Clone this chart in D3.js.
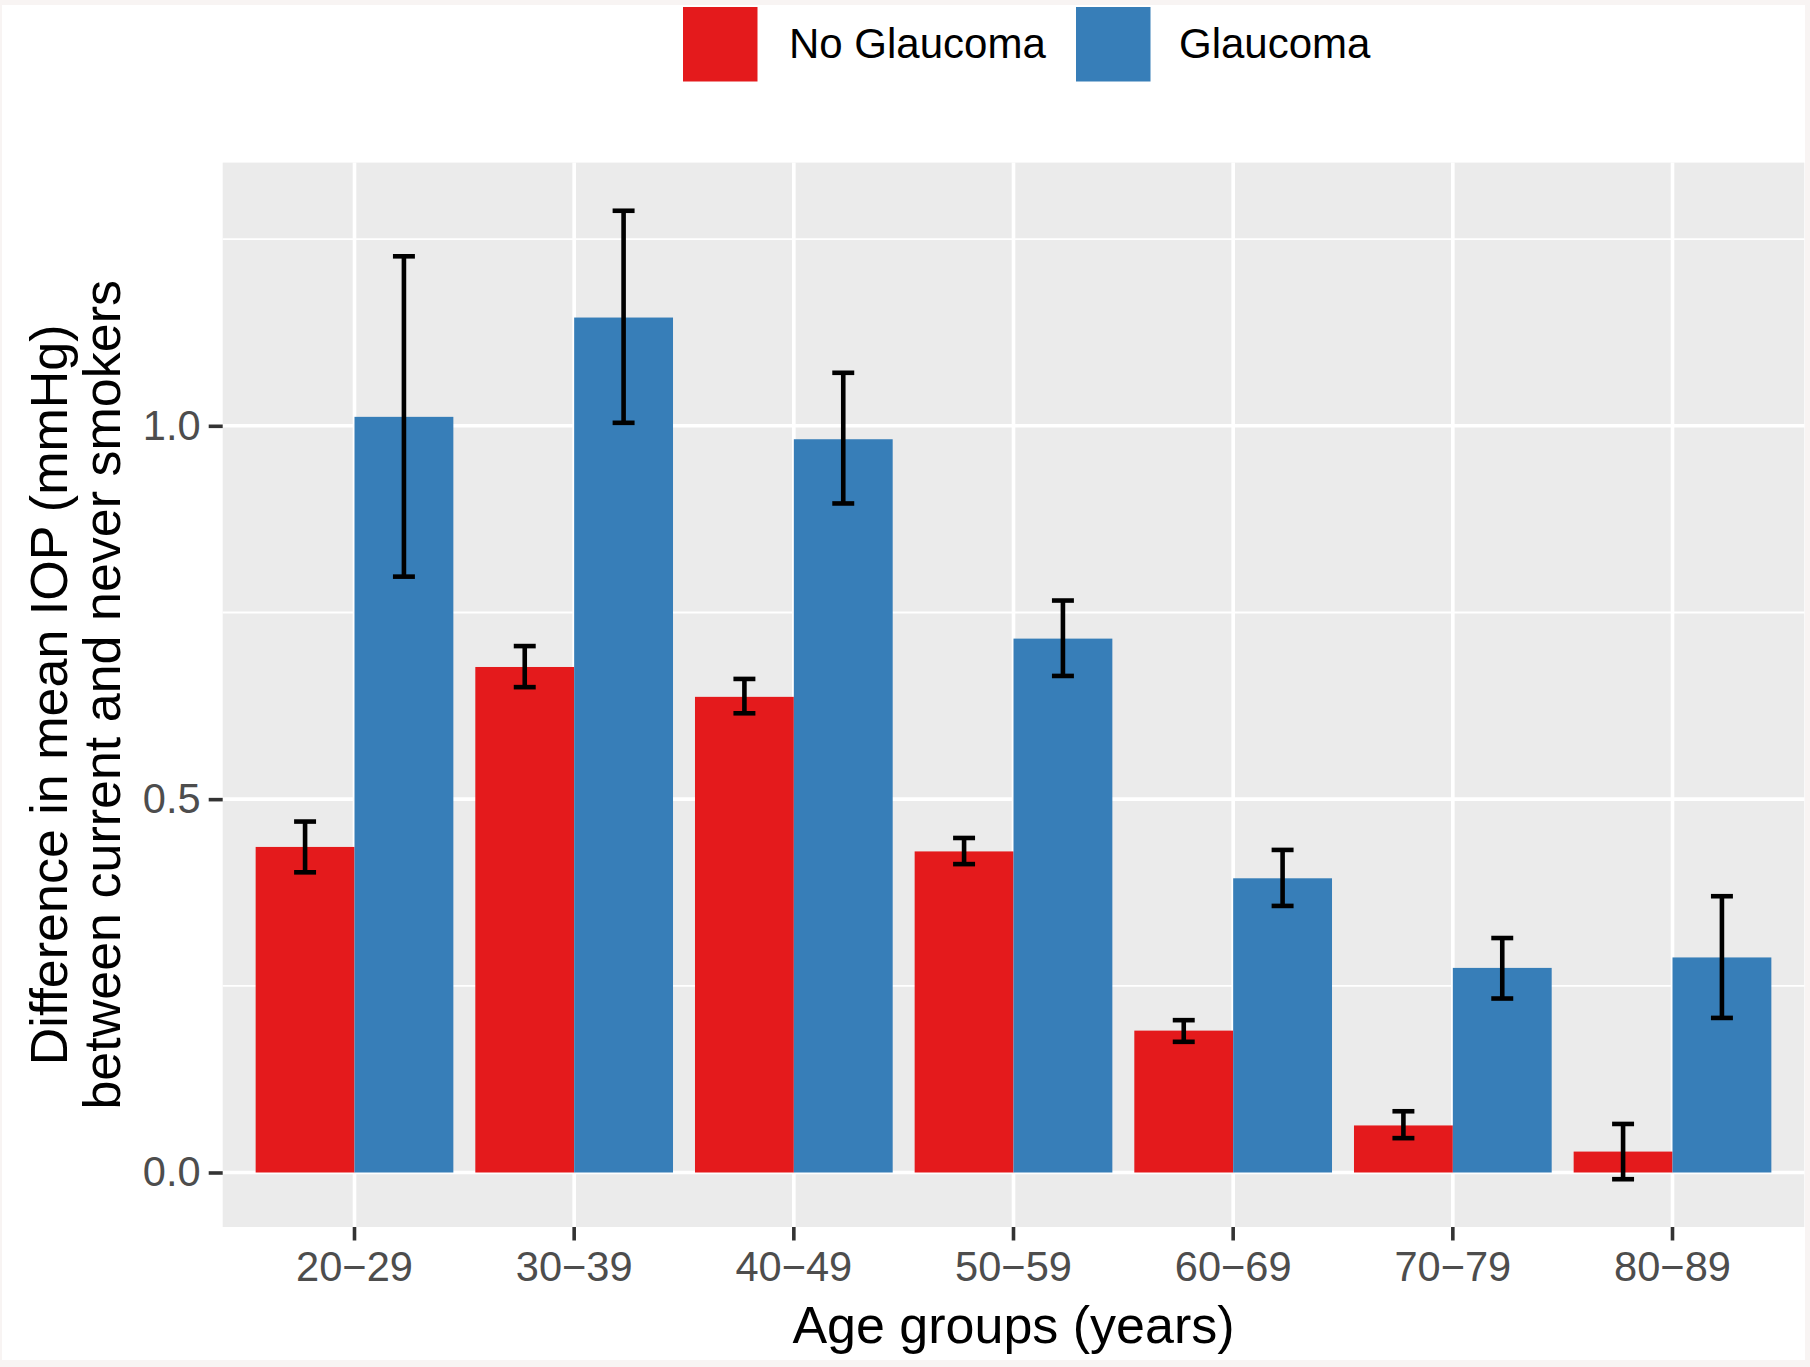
<!DOCTYPE html>
<html>
<head>
<meta charset="utf-8">
<script src="https://cdn.jsdelivr.net/npm/d3@7"></script>
<style>
  html, body { margin: 0; padding: 0; background: #ffffff; }
  svg { display: block; }
  text { font-family: "Liberation Sans", Arial, Helvetica, sans-serif; }
</style>
</head>
<body>
<script>
// ---- Data ----
const categories = ["20\u221229", "30\u221239", "40\u221249", "50\u221259", "60\u221269", "70\u221279", "80\u221289"];
const seriesNames = ["No Glaucoma", "Glaucoma"];
const noGlaucoma   = [0.436, 0.677, 0.637, 0.430, 0.190, 0.063, 0.028];
const noGlaucomaLo = [0.402, 0.650, 0.615, 0.413, 0.175, 0.046, -0.009];
const noGlaucomaHi = [0.470, 0.705, 0.661, 0.448, 0.204, 0.082, 0.065];
const glaucoma     = [1.012, 1.145, 0.982, 0.715, 0.394, 0.274, 0.288];
const glaucomaLo   = [0.798, 1.004, 0.896, 0.665, 0.357, 0.233, 0.207];
const glaucomaHi   = [1.227, 1.288, 1.071, 0.766, 0.432, 0.314, 0.370];
const yMajorTicks = [0, 0.5, 1.0];
const yTickLabels = ["0.0", "0.5", "1.0"];
const yMinorTicks = [0.25, 0.75, 1.25];
const xTitle = "Age groups (years)";
const yTitleLines = ["Difference in mean IOP (mmHg)", "between current and never smokers"];

// ---- Layout ----
const W = 1810, H = 1367;
const panel = { left: 222.7, right: 1804.3, top: 162.6, bottom: 1227 };
const colors = { "No Glaucoma": "#E41A1C", "Glaucoma": "#377EB8" };

const rows = [];
categories.forEach((c, i) => {
  rows.push({ cat: c, series: "No Glaucoma", v: noGlaucoma[i], lo: noGlaucomaLo[i], hi: noGlaucomaHi[i] });
  rows.push({ cat: c, series: "Glaucoma", v: glaucoma[i], lo: glaucomaLo[i], hi: glaucomaHi[i] });
});

const svg = d3.select("body").append("svg").attr("width", W).attr("height", H);

// frame
svg.append("rect").attr("x", 0).attr("y", 0).attr("width", W).attr("height", H).attr("fill", "#F8F4F3");
svg.append("rect").attr("x", 2).attr("y", 5).attr("width", 1803).attr("height", 1355).attr("fill", "#ffffff");

const x = d3.scaleBand().domain(categories).range([panel.left, panel.right]).paddingInner(0.1).paddingOuter(0.15);
const xs = d3.scaleBand().domain(seriesNames).range([0, x.bandwidth()]);
const y = d3.scaleLinear().domain([-0.073, 1.3525]).range([panel.bottom, panel.top]);
const cx = c => x(c) + x.bandwidth() / 2;

// panel background
svg.append("rect").attr("x", panel.left).attr("y", panel.top)
  .attr("width", panel.right - panel.left).attr("height", panel.bottom - panel.top).attr("fill", "#EBEBEB");

const grid = svg.append("g");
grid.selectAll("line.minor").data(yMinorTicks).join("line")
  .attr("x1", panel.left).attr("x2", panel.right)
  .attr("y1", d => y(d)).attr("y2", d => y(d))
  .attr("stroke", "#ffffff").attr("stroke-width", 1.8);
grid.selectAll("line.majory").data(yMajorTicks).join("line")
  .attr("x1", panel.left).attr("x2", panel.right)
  .attr("y1", d => y(d)).attr("y2", d => y(d))
  .attr("stroke", "#ffffff").attr("stroke-width", 3.6);
grid.selectAll("line.majorx").data(categories).join("line")
  .attr("x1", d => cx(d)).attr("x2", d => cx(d))
  .attr("y1", panel.top).attr("y2", panel.bottom)
  .attr("stroke", "#ffffff").attr("stroke-width", 3.6);

// bars
svg.append("g").selectAll("rect").data(rows).join("rect")
  .attr("x", d => x(d.cat) + xs(d.series))
  .attr("width", xs.bandwidth())
  .attr("y", d => Math.min(y(d.v), y(0)))
  .attr("height", d => Math.abs(y(0) - y(d.v)))
  .attr("fill", d => colors[d.series]);

// error bars
const capW = x.step() * 0.1;
const eb = svg.append("g").attr("stroke", "#000000").attr("stroke-width", 4.6).attr("fill", "none");
rows.forEach(d => {
  const mx = x(d.cat) + xs(d.series) + xs.bandwidth() / 2;
  eb.append("line").attr("x1", mx).attr("x2", mx).attr("y1", y(d.hi)).attr("y2", y(d.lo));
  eb.append("line").attr("x1", mx - capW / 2).attr("x2", mx + capW / 2).attr("y1", y(d.hi)).attr("y2", y(d.hi));
  eb.append("line").attr("x1", mx - capW / 2).attr("x2", mx + capW / 2).attr("y1", y(d.lo)).attr("y2", y(d.lo));
});

// axes
const yAxis = d3.axisLeft(y).tickValues(yMajorTicks).tickFormat((d, i) => yTickLabels[i]).tickSize(14).tickPadding(8);
const gy = svg.append("g").attr("transform", `translate(${panel.left},0)`).call(yAxis);
gy.select(".domain").remove();
gy.selectAll(".tick line").attr("stroke", "#333333").attr("stroke-width", 3.6);
gy.selectAll(".tick text").attr("fill", "#4D4D4D").style("font-size", "41.6px")
  .style("font-family", "'Liberation Sans', Arial, sans-serif");

const xAxis = d3.axisBottom(x).tickSize(13.5).tickPadding(11);
const gx = svg.append("g").attr("transform", `translate(0,${panel.bottom})`).call(xAxis);
gx.select(".domain").remove();
gx.selectAll(".tick line").attr("stroke", "#333333").attr("stroke-width", 3.6);
gx.selectAll(".tick text").attr("fill", "#4D4D4D").style("font-size", "41.6px")
  .style("font-family", "'Liberation Sans', Arial, sans-serif");

// axis titles
svg.append("text").attr("x", (panel.left + panel.right) / 2).attr("y", 1343)
  .attr("text-anchor", "middle").attr("fill", "#000").style("font-size", "52px").text(xTitle);

const yMid = (panel.top + panel.bottom) / 2;
const ytg = svg.append("g");
[67, 120].forEach((bx, i) => {
  ytg.append("text").attr("transform", `translate(${bx},${yMid}) rotate(-90)`)
    .attr("text-anchor", "middle").attr("fill", "#000").style("font-size", "52px").text(yTitleLines[i]);
});

// legend
const legendItems = [
  { name: seriesNames[0], kx: 683, tx: 789 },
  { name: seriesNames[1], kx: 1076, tx: 1179 }
];
const lg = svg.append("g");
legendItems.forEach(it => {
  lg.append("rect").attr("x", it.kx).attr("y", 7).attr("width", 74.5).attr("height", 74.5).attr("fill", colors[it.name]);
  lg.append("text").attr("x", it.tx).attr("y", 58.3).attr("fill", "#000").style("font-size", "42px").text(it.name);
});
</script>
</body>
</html>
